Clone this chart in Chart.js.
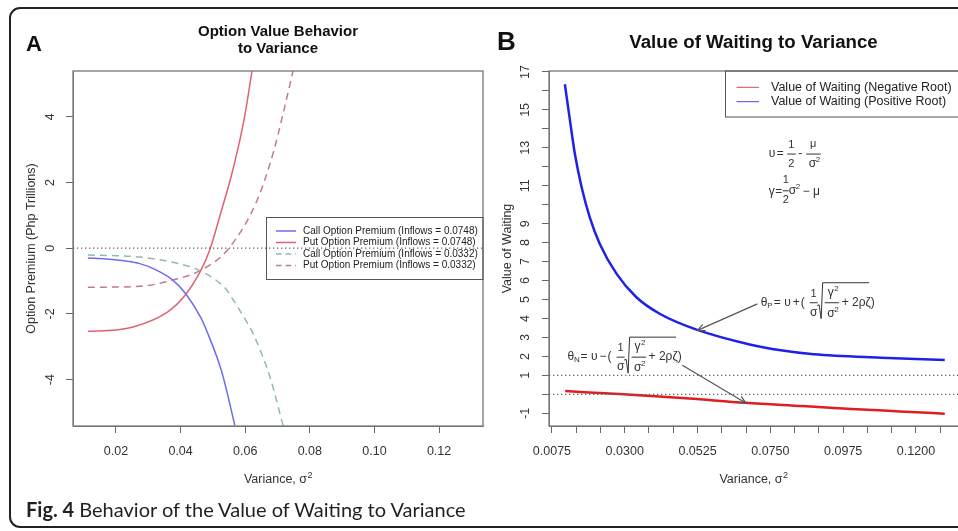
<!DOCTYPE html>
<html>
<head>
<meta charset="utf-8">
<script src="https://cdn.jsdelivr.net/npm/chart.js@4.4.0/dist/chart.umd.min.js"></script>
<style>
html,body{margin:0;padding:0;width:958px;height:531px;overflow:hidden;background:#fff;}
#frame{position:absolute;left:9px;top:7px;width:1000px;height:517px;border:2px solid #222;border-radius:11px;}
#cA{position:absolute;left:0;top:0;}
#cB{position:absolute;left:490px;top:0;}
#cap{position:absolute;left:26px;top:499px;font-family:Lato,"Open Sans",sans-serif;font-size:20px;line-height:20px;color:#231f20;white-space:nowrap;}
#cap b{font-weight:700;}
</style>
</head>
<body>
<div id="frame"></div>
<canvas id="cA" width="490" height="531"></canvas>
<canvas id="cB" width="475" height="531"></canvas>
<div id="cap"><b>Fig. 4</b> Behavior of the Value of Waiting to Variance</div>
<script>
// ---------------- DATA : panel A ----------------
const titleA = ['Option Value Behavior', 'to Variance'];
const yTitleA = 'Option Premium (Php Trillions)';
const xTitleText = 'Variance, \u03c3';
const xTicksA = [0.02, 0.04, 0.06, 0.08, 0.10, 0.12];
const xTickLabelsA = ['0.02', '0.04', '0.06', '0.08', '0.10', '0.12'];
const yTicksA = [-4, -2, 0, 2, 4];
const yTickLabelsA = ['-4', '-2', '0', '2', '4'];
const seriesNamesA = [
  'Call Option Premium (Inflows = 0.0748)',
  'Put Option Premium (Inflows = 0.0748)',
  'Call Option Premium (Inflows = 0.0332)',
  'Put Option Premium (Inflows = 0.0332)'
];
const callHighX = [0.0113, 0.0170, 0.0230, 0.0274, 0.0324, 0.0377, 0.0417, 0.0463, 0.0482, 0.0528, 0.0568];
const callHighY = [-0.30, -0.33, -0.39, -0.47, -0.66, -0.98, -1.40, -2.12, -2.54, -3.78, -5.39];
const putHighX = [0.0113, 0.0200, 0.0253, 0.0358, 0.0414, 0.0463, 0.0491, 0.0531, 0.0553, 0.0578, 0.0599, 0.0621];
const putHighY = [-2.53, -2.49, -2.40, -1.95, -1.43, -0.67, -0.03, 1.30, 2.05, 3.05, 4.05, 5.39];
const callLowX = [0.0113, 0.0200, 0.0274, 0.0376, 0.0463, 0.0541, 0.0562, 0.0602, 0.0624, 0.0677, 0.0717];
const callLowY = [-0.21, -0.23, -0.27, -0.43, -0.70, -1.25, -1.56, -2.20, -2.59, -3.93, -5.39];
const putLowX = [0.0113, 0.0274, 0.0376, 0.0463, 0.0547, 0.0637, 0.0689, 0.0714, 0.0748];
const putLowY = [-1.19, -1.16, -0.97, -0.67, -0.03, 1.46, 2.98, 3.96, 5.39];
const refLinesA = [0];

// ---------------- DATA : panel B ----------------
const titleB = 'Value of Waiting to Variance';
const yTitleB = 'Value of Waiting';
const xTicksB = [0.0075, 0.015, 0.0225, 0.03, 0.0375, 0.045, 0.0525, 0.06, 0.0675, 0.075, 0.0825, 0.09, 0.0975, 0.105, 0.1125, 0.12, 0.1275];
const xTickLabelsB = ['0.0075', '', '', '0.0300', '', '', '0.0525', '', '', '0.0750', '', '', '0.0975', '', '', '0.1200', ''];
const yTicksB = [-1, 0, 1, 2, 3, 4, 5, 6, 7, 8, 9, 10, 11, 12, 13, 14, 15, 16, 17];
const yTickLabelsB = ['-1', '', '1', '2', '3', '4', '5', '6', '7', '8', '9', '', '11', '', '13', '', '15', '', '17'];
const seriesNamesB = ['Value of Waiting (Negative Root)', 'Value of Waiting (Positive Root)'];
const negRootX = [0.0116, 0.0297, 0.0370, 0.0500, 0.0674, 0.0850, 0.1000, 0.1150, 0.1289];
const negRootY = [0.17, 0.00, -0.07, -0.22, -0.45, -0.62, -0.77, -0.90, -1.02];
const posRootX = [0.0115, 0.0131, 0.0146, 0.0167, 0.0192, 0.0223, 0.0275, 0.0336, 0.0408, 0.0522, 0.0686, 0.0782, 0.0884, 0.1090, 0.1289];
const posRootY = [16.35, 14.42, 12.67, 10.91, 9.33, 7.93, 6.35, 5.12, 4.25, 3.41, 2.63, 2.32, 2.11, 1.93, 1.81];
const refLinesB = [0, 1];

// ---------------- helpers ----------------
const FAM = '"Liberation Sans", Arial, sans-serif';
function f(sz, bold){ return (bold ? 'bold ' : '') + sz + 'px ' + FAM; }
function ds(xs, ys, color, width, dash){
  return { data: xs.map((x, i) => ({ x: x, y: ys[i] })), borderColor: color, borderWidth: width,
           borderDash: dash || [], pointRadius: 0, fill: false, cubicInterpolationMode: 'monotone' };
}
function refDs(v, range){
  return { data: [{ x: range[0], y: v }, { x: range[1], y: v }], borderColor: '#666', borderWidth: 1.2,
           borderDash: [1.3, 2.7], pointRadius: 0, fill: false };
}
function rotText(ctx, txt, x, y, font, color){
  ctx.save(); ctx.translate(x, y); ctx.rotate(-Math.PI / 2);
  ctx.font = font; ctx.fillStyle = color; ctx.textAlign = 'center'; ctx.textBaseline = 'middle';
  ctx.fillText(txt, 0, 0); ctx.restore();
}
function xTitle(ctx, cx, base){
  ctx.save(); ctx.fillStyle = '#333'; ctx.textBaseline = 'alphabetic'; ctx.textAlign = 'left';
  ctx.font = f(12.5); const w1 = ctx.measureText(xTitleText).width;
  ctx.font = f(9); const w2 = ctx.measureText('2').width;
  const x0 = cx - (w1 + w2) / 2;
  ctx.font = f(12.5); ctx.fillText(xTitleText, x0, base);
  ctx.font = f(9); ctx.fillText('2', x0 + w1 + 0.5, base - 5);
  ctx.restore();
}
function txt(ctx, s, x, y, font, align){
  ctx.font = font; ctx.textAlign = align || 'left'; ctx.textBaseline = 'middle'; ctx.fillText(s, x, y);
}
function hline(ctx, x1, x2, y){ ctx.beginPath(); ctx.moveTo(x1, y); ctx.lineTo(x2, y); ctx.stroke(); }
function arrow(ctx, x1, y1, x2, y2){
  ctx.beginPath(); ctx.moveTo(x1, y1); ctx.lineTo(x2, y2); ctx.stroke();
  const a = Math.atan2(y2 - y1, x2 - x1), L = 8, s = 0.45;
  ctx.beginPath();
  ctx.moveTo(x2 - L * Math.cos(a - s), y2 - L * Math.sin(a - s));
  ctx.lineTo(x2, y2);
  ctx.lineTo(x2 - L * Math.cos(a + s), y2 - L * Math.sin(a + s));
  ctx.stroke();
}
function drawTheta(ctx, x0, yc, sub, sign){
  const F = f(12), S = f(8);
  txt(ctx, '\u03b8', x0, yc, F);
  txt(ctx, sub, x0 + 6.5, yc + 3, S);
  txt(ctx, '=', x0 + 13, yc, F);
  txt(ctx, '\u03c5', x0 + 23.5, yc, F);
  txt(ctx, sign, x0 + 32, yc, F);
  txt(ctx, '(', x0 + 40, yc, F);
  txt(ctx, '1', x0 + 53, yc - 9, f(11), 'center');
  hline(ctx, x0 + 49, x0 + 57, yc);
  txt(ctx, '\u03c3', x0 + 53, yc + 10, F, 'center');
  ctx.beginPath();
  ctx.moveTo(x0 + 56.5, yc + 3); ctx.lineTo(x0 + 58.5, yc + 2);
  ctx.lineTo(x0 + 60.5, yc + 16); ctx.lineTo(x0 + 62, yc - 20); ctx.lineTo(x0 + 108.5, yc - 20);
  ctx.stroke();
  txt(ctx, '\u03b3', x0 + 67, yc - 10, F);
  txt(ctx, '2', x0 + 73.5, yc - 14, S);
  hline(ctx, x0 + 64, x0 + 78.5, yc);
  txt(ctx, '\u03c3', x0 + 66.5, yc + 11, F);
  txt(ctx, '2', x0 + 73.5, yc + 7, S);
  txt(ctx, '+ 2\u03c1\u03b6)', x0 + 81, yc, F);
}

// ---------------- Panel A ----------------
const rangeXA = [0.0067, 0.1336], rangeYA = [-5.41, 5.39];
const stylesA = [
  { c: '#6d6df0', d: [] }, { c: '#e06272', d: [] },
  { c: '#8fbab2', d: [7, 5] }, { c: '#c27b88', d: [7, 5] }
];
const decorA = {
  id: 'decorA',
  afterDraw(chart){
    const ctx = chart.ctx, ca = chart.chartArea, sy = chart.scales.y;
    ctx.save();
    ctx.strokeStyle = '#777'; ctx.lineWidth = 1.3;
    ctx.strokeRect(ca.left, ca.top, ca.right - ca.left, ca.bottom - ca.top);
    ctx.fillStyle = '#111'; ctx.textBaseline = 'alphabetic';
    ctx.font = f(22, true); ctx.textAlign = 'left'; ctx.fillText('A', 26, 51);
    const cx = (ca.left + ca.right) / 2;
    ctx.font = f(15, true); ctx.textAlign = 'center';
    ctx.fillText(titleA[0], cx, 36); ctx.fillText(titleA[1], cx, 53);
    sy.ticks.forEach((t, i) => rotText(ctx, yTickLabelsA[i], 51, sy.getPixelForValue(t.value), f(12.5), '#333'));
    rotText(ctx, yTitleA, 32, (ca.top + ca.bottom) / 2, f(12.5), '#333');
    xTitle(ctx, cx, 483);
    // legend
    const bw = 216.5, bh = 62, bx = ca.right - bw, by = (ca.top + ca.bottom) / 2 - bh / 2;
    ctx.strokeStyle = '#555'; ctx.lineWidth = 1; ctx.setLineDash([]);
    ctx.strokeRect(bx, by, bw, bh);
    seriesNamesA.forEach((name, i) => {
      const yy = by + 13.5 + i * 11.5;
      ctx.strokeStyle = stylesA[i].c; ctx.lineWidth = 1.5; ctx.setLineDash(stylesA[i].d.map(v => v * 0.8));
      hline(ctx, bx + 9.5, bx + 29.5, yy);
      ctx.setLineDash([]); ctx.fillStyle = '#222';
      txt(ctx, name, bx + 36.5, yy, f(10));
    });
    ctx.restore();
  }
};
new Chart(document.getElementById('cA'), {
  type: 'line',
  data: { datasets: [
    refDs(refLinesA[0], rangeXA),
    ds(callHighX, callHighY, stylesA[0].c, 1.5, stylesA[0].d),
    ds(putHighX, putHighY, stylesA[1].c, 1.5, stylesA[1].d),
    ds(callLowX, callLowY, stylesA[2].c, 1.5, stylesA[2].d),
    ds(putLowX, putLowY, stylesA[3].c, 1.5, stylesA[3].d)
  ]},
  options: {
    responsive: false, animation: false, devicePixelRatio: 1,
    layout: { padding: { top: 71, right: 7, bottom: 0, left: 0 } },
    plugins: { legend: { display: false }, tooltip: { enabled: false } },
    scales: {
      x: { type: 'linear', min: rangeXA[0], max: rangeXA[1],
        afterBuildTicks: s => { s.ticks = xTicksA.map(v => ({ value: v })); },
        afterFit: s => { s.height = 105; },
        ticks: { autoSkip: false, maxRotation: 0, minRotation: 0, padding: 11, color: '#333',
                 font: { family: FAM, size: 12.5 }, callback: (v, i) => xTickLabelsA[i] },
        grid: { drawOnChartArea: false, tickLength: 7, color: '#666', lineWidth: 1 },
        border: { display: true, color: '#777' } },
      y: { type: 'linear', min: rangeYA[0], max: rangeYA[1],
        afterBuildTicks: s => { s.ticks = yTicksA.map(v => ({ value: v })); },
        afterFit: s => { s.width = 73; },
        ticks: { display: false },
        grid: { drawOnChartArea: false, tickLength: 7, color: '#666', lineWidth: 1 },
        border: { display: true, color: '#777' } }
    }
  },
  plugins: [decorA]
});

// ---------------- Panel B ----------------
const rangeXB = [0.0066, 0.1336], rangeYB = [-1.67, 17.05];
const stylesB = [{ c: '#dd1f1f', l: '#e04848' }, { c: '#2121e6', l: '#4a4ae0' }];
const decorB = {
  id: 'decorB',
  afterDraw(chart){
    const ctx = chart.ctx, ca = chart.chartArea, sx = chart.scales.x, sy = chart.scales.y;
    const X = v => sx.getPixelForValue(v), Y = v => sy.getPixelForValue(v);
    ctx.save();
    ctx.strokeStyle = '#777'; ctx.lineWidth = 1.3;
    ctx.strokeRect(ca.left, ca.top, ca.right - ca.left, ca.bottom - ca.top);
    ctx.fillStyle = '#111'; ctx.textBaseline = 'alphabetic';
    ctx.font = f(26, true); ctx.textAlign = 'left'; ctx.fillText('B', 7, 50);
    const cx = (ca.left + ca.right) / 2;
    ctx.font = f(18.7, true); ctx.textAlign = 'center'; ctx.fillText(titleB, cx - 1, 48);
    sy.ticks.forEach((t, i) => { if (yTickLabelsB[i]) rotText(ctx, yTickLabelsB[i], 36, Y(t.value), f(12.5), '#333'); });
    rotText(ctx, yTitleB, 18, (ca.top + ca.bottom) / 2, f(12.5), '#333');
    xTitle(ctx, cx - 1, 483);
    // legend
    const bx = ca.right - 234.5, by = ca.top, bh = 46;
    ctx.strokeStyle = '#555'; ctx.lineWidth = 1;
    ctx.strokeRect(bx, by, ca.right - bx + 5, bh);
    seriesNamesB.forEach((name, i) => {
      const yy = by + 16.3 + i * 14.4;
      ctx.strokeStyle = stylesB[i].l; ctx.lineWidth = 1; hline(ctx, bx + 11, bx + 33.5, yy);
      ctx.fillStyle = '#222'; txt(ctx, name, bx + 45.5, yy, f(12.5));
    });
    // formulas
    ctx.fillStyle = '#333'; ctx.strokeStyle = '#333'; ctx.lineWidth = 1;
    let x0 = X(0.0745), yc = Y(12.67);
    txt(ctx, '\u03c5', x0, yc, f(12));
    txt(ctx, '=', x0 + 8, yc, f(12));
    txt(ctx, '1', x0 + 22.5, yc - 9.5, f(11), 'center');
    hline(ctx, x0 + 18.5, x0 + 27, yc);
    txt(ctx, '2', x0 + 22.5, yc + 10, f(11), 'center');
    txt(ctx, '-', x0 + 29.5, yc, f(12));
    txt(ctx, '\u03bc', x0 + 44.5, yc - 10, f(11), 'center');
    hline(ctx, x0 + 37.5, x0 + 52, yc);
    txt(ctx, '\u03c3', x0 + 40, yc + 10, f(12));
    txt(ctx, '2', x0 + 47, yc + 6, f(8));
    x0 = X(0.0745); yc = Y(10.68);
    txt(ctx, '\u03b3', x0, yc, f(12));
    txt(ctx, '=', x0 + 6.5, yc, f(12));
    txt(ctx, '1', x0 + 17, yc - 11.5, f(11), 'center');
    hline(ctx, x0 + 14, x0 + 20, yc - 1);
    txt(ctx, '2', x0 + 17, yc + 8.5, f(11), 'center');
    txt(ctx, '\u03c3', x0 + 20, yc - 1, f(12));
    txt(ctx, '2', x0 + 27, yc - 5, f(8));
    txt(ctx, '\u2212 \u03bc', x0 + 34, yc, f(12));
    drawTheta(ctx, X(0.0720), Y(4.83), 'P', '+');
    drawTheta(ctx, X(0.01235), Y(1.96), 'N', '\u2212');
    ctx.strokeStyle = '#555'; ctx.lineWidth = 1.2;
    arrow(ctx, X(0.0710), Y(4.77), X(0.0525), Y(3.37));
    arrow(ctx, X(0.0478), Y(1.53), X(0.0674), Y(-0.46));
    ctx.restore();
  }
};
new Chart(document.getElementById('cB'), {
  type: 'line',
  data: { datasets: [
    refDs(refLinesB[0], rangeXB),
    refDs(refLinesB[1], rangeXB),
    ds(negRootX, negRootY, stylesB[0].c, 2.5),
    ds(posRootX, posRootY, stylesB[1].c, 2.5)
  ]},
  options: {
    responsive: false, animation: false, devicePixelRatio: 1,
    layout: { padding: { top: 71, right: 5, bottom: 0, left: 0 } },
    plugins: { legend: { display: false }, tooltip: { enabled: false } },
    scales: {
      x: { type: 'linear', min: rangeXB[0], max: rangeXB[1],
        afterBuildTicks: s => { s.ticks = xTicksB.map(v => ({ value: v })); },
        afterFit: s => { s.height = 105; },
        ticks: { autoSkip: false, maxRotation: 0, minRotation: 0, padding: 11, color: '#333',
                 font: { family: FAM, size: 12.5 }, callback: (v, i) => xTickLabelsB[i] },
        grid: { drawOnChartArea: false, tickLength: 7, color: '#666', lineWidth: 1 },
        border: { display: true, color: '#777' } },
      y: { type: 'linear', min: rangeYB[0], max: rangeYB[1],
        afterBuildTicks: s => { s.ticks = yTicksB.map(v => ({ value: v })); },
        afterFit: s => { s.width = 59; },
        ticks: { display: false },
        grid: { drawOnChartArea: false, tickLength: 7, color: '#666', lineWidth: 1 },
        border: { display: true, color: '#777' } }
    }
  },
  plugins: [decorB]
});
</script>
</body>
</html>
